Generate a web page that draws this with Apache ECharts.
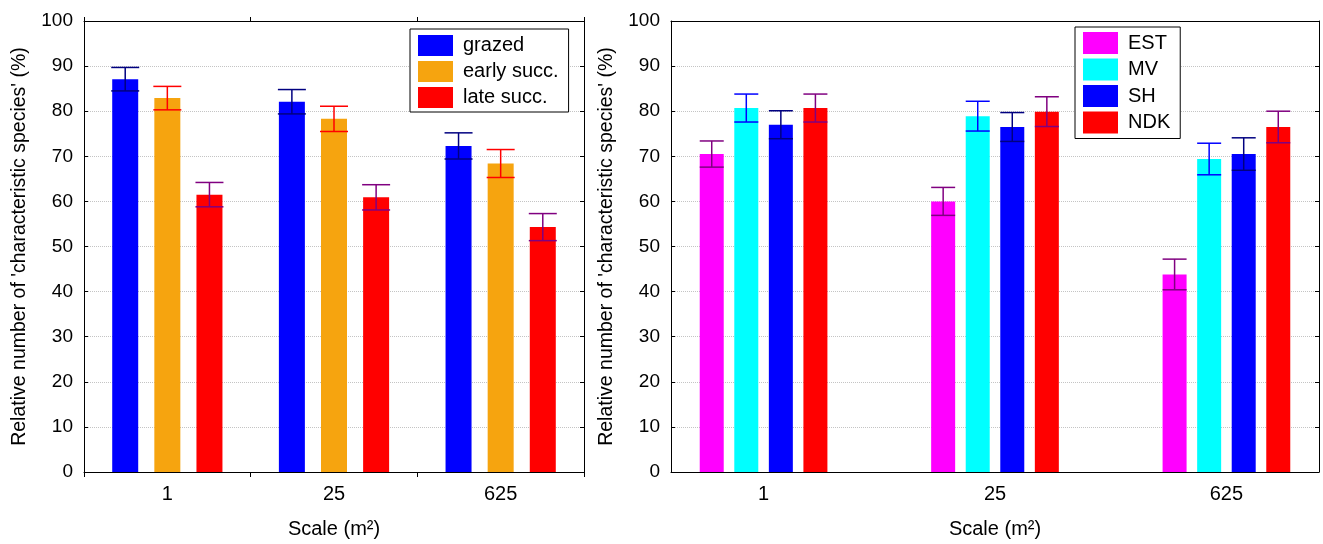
<!DOCTYPE html>
<html>
<head>
<meta charset="utf-8">
<script src="https://cdn.jsdelivr.net/npm/echarts@6/dist/echarts.min.js"></script>
<style>
html,body{margin:0;padding:0;background:#fff;}
#chart{width:1323px;height:544px;}
</style>
</head>
<body>
<div id="chart"></div>
<script>
// ---- data ----
const categories = ['1', '25', '625'];
const yAxisName = "Relative number of 'characteristic species' (%)";
const xAxisName = 'Scale (m²)';

// left panel
const leftNames = ['grazed', 'early succ.', 'late succ.'];
const grazed = [87.1, 82.1, 72.3];
const grazedErr = [2.6, 2.7, 2.9];
const earlySucc = [82.9, 78.3, 68.4];
const earlySuccErr = [2.6, 2.8, 3.1];
const lateSucc = [61.5, 60.9, 54.3];
const lateSuccErr = [2.7, 2.8, 3.0];

// right panel
const rightNames = ['EST', 'MV', 'SH', 'NDK'];
const est = [70.5, 60.0, 43.8];
const estErr = [2.9, 3.1, 3.4];
const mv = [80.7, 78.9, 69.4];
const mvErr = [3.1, 3.3, 3.5];
const sh = [77.0, 76.5, 70.5];
const shErr = [3.1, 3.2, 3.6];
const ndk = [80.7, 79.9, 76.5];
const ndkErr = [3.1, 3.3, 3.5];

// ---- styles ----
const FONT = '"Liberation Sans", Arial, sans-serif';
const leftColors = ['#0000ff', '#f6a40f', '#ff0000'];
const leftErrColors = ['#000080', '#ff0000', '#800080'];
const rightColors = ['#ff00ff', '#00ffff', '#0000ff', '#ff0000'];
const rightErrColors = ['#800080', '#0000ff', '#000080', '#800080'];

const L_BW = 26, L_GAP = 0.62;
const R_BW = 24, R_GAP = 0.44;

const chart = echarts.init(document.getElementById('chart'), null, {renderer: 'canvas'});

function errSeries(name, xIdx, yIdx, means, errs, xs, offset, capW, color) {
  return {
    type: 'custom',
    name: name,
    xAxisIndex: xIdx,
    yAxisIndex: yIdx,
    z: 10,
    silent: true,
    data: means.map((m, i) => [xs[i], m, errs[i]]),
    encode: {x: 0, y: 1},
    renderItem: function (params, api) {
      const x = api.value(0), m = api.value(1), e = api.value(2);
      const hi = api.coord([x, m + e]);
      const lo = api.coord([x, m - e]);
      const cx = hi[0] + offset;
      const h = capW / 2;
      const st = {stroke: color, lineWidth: 1.5};
      return {
        type: 'group',
        children: [
          {type: 'line', shape: {x1: cx, y1: hi[1], x2: cx, y2: lo[1]}, style: st},
          {type: 'line', shape: {x1: cx - h, y1: hi[1], x2: cx + h, y2: hi[1]}, style: st},
          {type: 'line', shape: {x1: cx - h, y1: lo[1], x2: cx + h, y2: lo[1]}, style: st}
        ]
      };
    }
  };
}

const leftMeans = [grazed, earlySucc, lateSucc];
const leftErrs = [grazedErr, earlySuccErr, lateSuccErr];
const rightMeans = [est, mv, sh, ndk];
const rightErrs = [estErr, mvErr, shErr, ndkErr];

const series = [];
leftNames.forEach((n, i) => {
  series.push({
    type: 'bar', name: n, xAxisIndex: 0, yAxisIndex: 0,
    data: leftMeans[i], barWidth: L_BW, barGap: (L_GAP * 100) + '%',
    itemStyle: {color: leftColors[i]}, silent: true
  });
});
const catIdx = categories.map((c, i) => i);
leftNames.forEach((n, i) => {
  const off = (i - (leftNames.length - 1) / 2) * L_BW * (1 + L_GAP);
  series.push(errSeries(n + ' err', 0, 0, leftMeans[i], leftErrs[i], catIdx, off, L_BW + 2, leftErrColors[i]));
});
const rx = categories.map((c, i) => i + 1);
rightNames.forEach((n, i) => {
  series.push({
    type: 'bar', name: n, xAxisIndex: 2, yAxisIndex: 2,
    data: rightMeans[i].map((v, k) => [rx[k], v]), barWidth: R_BW, barGap: (R_GAP * 100) + '%',
    itemStyle: {color: rightColors[i]}, silent: true
  });
});
rightNames.forEach((n, i) => {
  const off = (i - (rightNames.length - 1) / 2) * R_BW * (1 + R_GAP);
  series.push(errSeries(n + ' err', 2, 2, rightMeans[i], rightErrs[i], rx, off, R_BW, rightErrColors[i]));
});

const axisLine = {show: true, onZero: false, lineStyle: {color: '#000', width: 1}};
const textBase = {color: '#000', fontFamily: FONT};

function yMain(gridIndex, nameGap) {
  return {
    type: 'value', gridIndex: gridIndex, min: 0, max: 100, interval: 10,
    position: 'left',
    axisLine: axisLine,
    axisTick: {show: true, inside: true, length: 4, lineStyle: {color: '#000'}},
    axisLabel: Object.assign({fontSize: 19, margin: 11}, textBase),
    splitLine: {show: true, lineStyle: {color: '#c4c4c4', type: 'dotted', width: 1}},
    name: yAxisName, nameLocation: 'middle', nameGap: nameGap, nameRotate: 90,
    nameTextStyle: Object.assign({fontSize: 19.5}, textBase)
  };
}
function ySide(gridIndex) {
  return {
    type: 'value', gridIndex: gridIndex, min: 0, max: 100, interval: 10,
    position: 'right',
    axisLine: axisLine,
    axisTick: {show: true, inside: true, length: 4, lineStyle: {color: '#000'}},
    axisLabel: {show: false}, splitLine: {show: false}
  };
}

const option = {
  animation: false,
  backgroundColor: '#fff',
  textStyle: {fontFamily: FONT},
  grid: [
    {left: 84, right: 739, top: 21, bottom: 67, containLabel: false},
    {left: 671, right: 4, top: 21, bottom: 67, containLabel: false}
  ],
  legend: [
    {
      data: leftNames, orient: 'vertical', left: 410, top: 29,
      itemWidth: 35, itemHeight: 21, itemGap: 5,
      icon: 'rect', padding: [6, 10, 4, 8],
      borderColor: '#000', borderWidth: 1, backgroundColor: '#fff',
      textStyle: Object.assign({fontSize: 20, padding: [0, 0, 0, 5]}, textBase),
      selectedMode: false
    },
    {
      data: rightNames, orient: 'vertical', left: 1075, top: 27,
      itemWidth: 35, itemHeight: 22, itemGap: 4.5,
      icon: 'rect', padding: [5, 10, 5, 8],
      borderColor: '#000', borderWidth: 1, backgroundColor: '#fff',
      textStyle: Object.assign({fontSize: 20, padding: [0, 0, 0, 5]}, textBase),
      selectedMode: false
    }
  ],
  xAxis: [
    {
      type: 'category', gridIndex: 0, data: categories, position: 'bottom',
      axisLine: axisLine,
      axisTick: {show: true, length: 5, lineStyle: {color: '#000'}},
      axisLabel: Object.assign({fontSize: 20, margin: 12}, textBase),
      splitLine: {show: false},
      name: xAxisName, nameLocation: 'middle', nameGap: 47,
      nameTextStyle: Object.assign({fontSize: 20}, textBase)
    },
    {
      type: 'category', gridIndex: 0, data: categories, position: 'top',
      axisLine: axisLine,
      axisTick: {show: true, length: 4, lineStyle: {color: '#000'}},
      axisLabel: {show: false}, splitLine: {show: false}
    },
    {
      type: 'value', gridIndex: 1, min: 0.6, max: 3.4, position: 'bottom',
      axisLine: axisLine,
      axisTick: {show: false},
      axisLabel: Object.assign({
        fontSize: 20, margin: 12, customValues: rx,
        formatter: function (v) { return categories[Math.round(v) - 1]; }
      }, textBase),
      splitLine: {show: false},
      name: xAxisName, nameLocation: 'middle', nameGap: 47,
      nameTextStyle: Object.assign({fontSize: 20}, textBase)
    },
    {
      type: 'value', gridIndex: 1, min: 0.6, max: 3.4, position: 'top',
      axisLine: axisLine, axisTick: {show: false},
      axisLabel: {show: false}, splitLine: {show: false}
    }
  ],
  yAxis: [yMain(0, 54), ySide(0), yMain(1, 54), ySide(1)],
  series: series
};
chart.setOption(option);
</script>
</body>
</html>
